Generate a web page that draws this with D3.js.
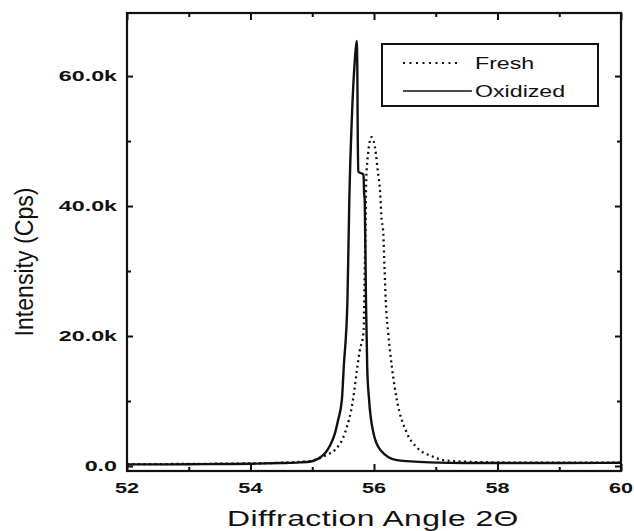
<!DOCTYPE html>
<html>
<head>
<meta charset="utf-8">
<script src="https://d3js.org/d3.v7.min.js"></script>
<style>
body { margin: 0; background: #fff; }
text { font-family: "Liberation Sans", Arial, sans-serif; fill: #111; }
.wide { transform-box: fill-box; transform: scaleX(1.45); }
</style>
</head>
<body>
<svg width="634" height="531"></svg>
<script>
// diffraction angle (2 theta) and intensity (counts per second)
var freshX = [52, 52.5, 53, 53.5, 54, 54.5, 54.8, 55.0, 55.1, 55.23, 55.37, 55.53, 55.66, 55.73, 55.77, 55.83, 55.85, 55.865, 55.87, 55.88, 55.96,
              56.03, 56.06, 56.10, 56.12, 56.15, 56.17, 56.19, 56.23, 56.29, 56.37, 56.53, 56.69, 56.96, 57.12, 57.5, 58, 58.5, 59, 59.5, 60];
var freshY = [300, 300, 320, 350, 400, 500, 650, 850, 1100, 1700, 2500, 5100, 10200, 15200, 17800, 20500, 30000, 38400, 42000, 45500, 50600,
              48100, 45500, 42000, 38400, 35800, 30600, 25500, 20500, 15200, 10200, 5100, 2900, 1400, 900, 650, 550, 500, 500, 500, 500];

var oxidizedX = [52, 52.5, 53, 53.5, 54, 54.5, 54.8, 54.96, 55.09, 55.21, 55.29, 55.37, 55.42, 55.48, 55.51, 55.57, 55.60, 55.64, 55.69, 55.72,
                 55.73, 55.735, 55.745, 55.83, 55.84, 55.85, 55.87, 55.89, 55.92, 55.99, 56.10, 56.37, 56.9, 57.5, 58, 59, 60];
var oxidizedY = [250, 250, 280, 300, 350, 450, 550, 650, 1100, 2000, 3200, 5100, 7100, 10200, 15200, 25500, 40900, 53200, 62500, 65400,
                 60900, 53200, 45300, 44800, 42000, 40900, 25500, 15200, 10200, 5100, 2500, 900, 550, 450, 450, 450, 500];

var xTicks = [52, 54, 56, 58, 60];
var yTicks = [0, 20000, 40000, 60000];
var xMinor = [53, 55, 57, 59];
var yMinor = [10000, 30000, 50000];
var seriesNames = ["Fresh", "Oxidized"];

var svg = d3.select("svg");
var pLeft = 127, pRight = 621, pTop = 13, pBottom = 471;

var x = d3.scaleLinear().domain([52, 60]).range([pLeft, pRight]);
var y = d3.scaleLinear().domain([-770, 69700]).range([pBottom, pTop]);

var fmt = function(d) { return d3.format(".1f")(d / 1000) + (d === 0 ? "" : "k"); };

// ticks, inward on all four sides
svg.append("g").attr("transform", "translate(0," + pBottom + ")")
  .call(d3.axisBottom(x).tickValues(xTicks).tickSize(-7).tickFormat(""));
svg.append("g").attr("transform", "translate(0," + pBottom + ")")
  .call(d3.axisBottom(x).tickValues(xMinor).tickSize(-4).tickFormat(""));
svg.append("g").attr("transform", "translate(0," + pTop + ")")
  .call(d3.axisTop(x).tickValues(xTicks).tickSize(-7).tickFormat(""));
svg.append("g").attr("transform", "translate(0," + pTop + ")")
  .call(d3.axisTop(x).tickValues(xMinor).tickSize(-4).tickFormat(""));

svg.append("g").attr("transform", "translate(" + pLeft + ",0)")
  .call(d3.axisLeft(y).tickValues(yTicks).tickSize(-6).tickFormat(""));
svg.append("g").attr("transform", "translate(" + pLeft + ",0)")
  .call(d3.axisLeft(y).tickValues(yMinor).tickSize(-4).tickFormat(""));
svg.append("g").attr("transform", "translate(" + pRight + ",0)")
  .call(d3.axisRight(y).tickValues(yTicks).tickSize(-6).tickFormat(""));
svg.append("g").attr("transform", "translate(" + pRight + ",0)")
  .call(d3.axisRight(y).tickValues(yMinor).tickSize(-4).tickFormat(""));

svg.selectAll(".domain").remove();
svg.selectAll(".tick line").attr("stroke", "#111").attr("stroke-width", 2);

// tick labels: printed in a wide bold face, stretched sideways
svg.append("g").selectAll("text").data(yTicks).join("text")
  .attr("x", pLeft - 10).attr("y", function(d) { return y(d); }).attr("dy", "0.35em")
  .attr("text-anchor", "end")
  .style("font-size", "15.5px").style("font-weight", "bold")
  .style("transform-box", "fill-box").style("transform-origin", "right center")
  .style("transform", "scaleX(1.5)")
  .text(fmt);

svg.append("g").selectAll("text").data(xTicks).join("text")
  .attr("x", function(d) { return x(d); }).attr("y", pBottom + 22)
  .attr("text-anchor", "middle")
  .style("font-size", "15.5px").style("font-weight", "bold")
  .style("transform-box", "fill-box").style("transform-origin", "center")
  .style("transform", "scaleX(1.4)")
  .text(d3.format("d"));

// frame
svg.append("rect")
  .attr("x", pLeft).attr("y", pTop)
  .attr("width", pRight - pLeft).attr("height", pBottom - pTop)
  .attr("fill", "none").attr("stroke", "#111").attr("stroke-width", 2.2);

var line = d3.line().curve(d3.curveMonotoneX)
  .x(function(d) { return x(d[0]); })
  .y(function(d) { return y(d[1]); });

svg.append("clipPath").attr("id", "clip").append("rect")
  .attr("x", pLeft).attr("y", pTop).attr("width", pRight - pLeft).attr("height", pBottom - pTop);

svg.append("path")
  .datum(d3.zip(oxidizedX, oxidizedY))
  .attr("clip-path", "url(#clip)")
  .attr("d", line)
  .attr("fill", "none").attr("stroke", "#111").attr("stroke-width", 2.4);

svg.append("path")
  .datum(d3.zip(freshX, freshY))
  .attr("clip-path", "url(#clip)")
  .attr("d", line)
  .attr("fill", "none").attr("stroke", "#111").attr("stroke-width", 2.3)
  .attr("stroke-dasharray", "2,3.5");

// legend
var lg = svg.append("g");
lg.append("rect").attr("x", 382).attr("y", 44).attr("width", 216).attr("height", 62)
  .attr("fill", "#fff").attr("stroke", "#111").attr("stroke-width", 2);
seriesNames.forEach(function(name, i) {
  var yy = 63 + i * 28;
  lg.append("line").attr("x1", 403).attr("x2", i === 0 ? 458 : 472).attr("y1", yy).attr("y2", yy)
    .attr("stroke", "#111").attr("stroke-width", i === 0 ? 2 : 1.6)
    .attr("stroke-dasharray", i === 0 ? "2,4.5" : null);
  lg.append("text").attr("class", "wide").attr("x", 475).attr("y", yy).attr("dy", "0.35em")
    .style("font-size", "16px").style("transform-origin", "left center").text(name);
});

// axis titles
svg.append("text").attr("class", "wide").attr("x", (pLeft + pRight) / 2 - 1).attr("y", 526)
  .attr("text-anchor", "middle").style("font-size", "22px").style("letter-spacing", "0.3px")
  .style("transform-origin", "center")
  .text("Diffraction Angle 2\u0398");

svg.append("text")
  .attr("transform", "translate(33,262) rotate(-90) scale(0.925,1)")
  .attr("text-anchor", "middle").style("font-size", "25px")
  .text("Intensity (Cps)");
</script>
</body>
</html>
